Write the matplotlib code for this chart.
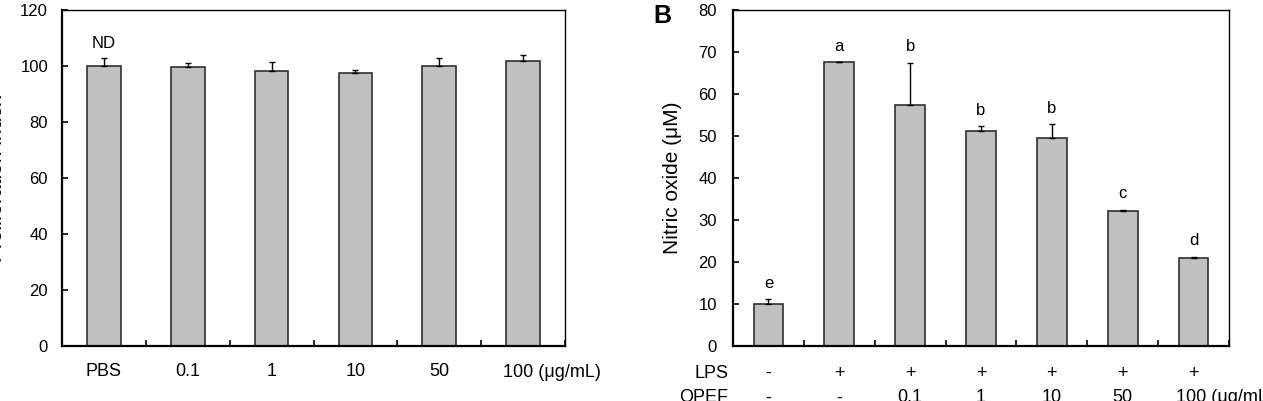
import matplotlib
matplotlib.use("Agg")
import matplotlib.pyplot as plt
import numpy as np

plt.rcParams["font.family"] = ["Liberation Sans", "DejaVu Sans"]

# panel A: proliferation
dose_labels = ["PBS", "0.1", "1", "10", "50", "100"]
prolif = [100.0, 99.6, 98.1, 97.6, 100.0, 101.8]
prolif_err = [2.8, 1.6, 3.2, 1.1, 2.8, 2.0]

# panel B: nitric oxide
lps_row = ["-", "+", "+", "+", "+", "+", "+"]
opef_row = ["-", "-", "0.1", "1", "10", "50", "100"]
nitric = [10.1, 67.6, 57.5, 51.2, 49.5, 32.1, 20.9]
nitric_err = [1.0, 0.0, 10.0, 1.2, 3.4, 0.4, 0.4]
sig_letters = ["e", "a", "b", "b", "b", "c", "d"]

W, H = 1263, 401
BAR = "#c0c0c0"
EDGE = "#303030"


def style_axes(axis, n):
    for side in ["left", "bottom"]:
        axis.spines[side].set_linewidth(1.6)
    for side in ["top", "right"]:
        axis.spines[side].set_linewidth(1.0)
    axis.set_xlim(-0.5, n - 0.5)
    axis.set_xticks(np.arange(n))
    axis.set_xticks(np.arange(n + 1) - 0.5, minor=True)
    axis.tick_params(axis="x", which="major", length=0, labelsize=13, pad=12)
    axis.tick_params(axis="x", which="minor", direction="in", length=4, width=1.2)
    axis.tick_params(axis="y", direction="in", length=4, width=1.2, labelsize=12)


def draw_bars(axis, values, errs, width):
    x = np.arange(len(values))
    axis.bar(x, values, width=width, color=BAR, edgecolor=EDGE, linewidth=1.2, zorder=2)
    axis.errorbar(x, values, yerr=[np.zeros(len(errs)), errs], fmt="none",
                  ecolor="black", elinewidth=1.0, capsize=2.5, capthick=1.0, zorder=3)


fig = plt.figure(figsize=(W / 100, H / 100), dpi=100)

# ---- panel A
ax1 = fig.add_axes([62 / W, 55 / H, (565 - 62) / W, 336 / H])
draw_bars(ax1, prolif, prolif_err, 0.4)
style_axes(ax1, len(dose_labels))
ax1.set_ylim(0, 120)
ax1.set_yticks(range(0, 121, 20))
ax1.tick_params(axis="y", pad=10)
ax1.set_xticklabels(dose_labels[:-1] + [""])
ax1.text(len(dose_labels) - 1 - 0.24, -0.078, "100 (\u03bcg/mL)", transform=ax1.get_xaxis_transform(),
         ha="left", va="center", fontsize=13)
ax1.annotate("ND", (0, prolif[0] + prolif_err[0]), xytext=(0, 7.5), textcoords="offset points",
             ha="center", va="baseline", fontsize=12)
fig.text(-3 / W, (1 - (10 + 346) / 2 / H), "Proliferation index", rotation=90,
         ha="center", va="center", fontsize=15)

# ---- panel B
ax2 = fig.add_axes([733 / W, 55 / H, (1229 - 733) / W, 336 / H])
draw_bars(ax2, nitric, nitric_err, 0.42)
style_axes(ax2, len(lps_row))
ax2.set_ylim(0, 80)
ax2.set_yticks(range(0, 81, 10))
ax2.tick_params(axis="y", pad=11.5)
ax2.set_xticklabels([])
ax2.set_ylabel("Nitric oxide (\u03bcM)", fontsize=15, labelpad=12)

for i, (v, e, s) in enumerate(zip(nitric, nitric_err, sig_letters)):
    ax2.annotate(s, (i, v + e), xytext=(0, 8), textcoords="offset points",
                 ha="center", va="baseline", fontsize=12)

row1_y = -(373 - 346) / 336
row2_y = -(398 - 346) / 336
trans = ax2.get_xaxis_transform()
ax2.text(-0.5 - 0.07, row1_y, "LPS", transform=trans, ha="right", va="center", fontsize=13)
ax2.text(-0.5 - 0.07, row2_y, "OPEF", transform=trans, ha="right", va="center", fontsize=13)
for i, (a, b) in enumerate(zip(lps_row, opef_row)):
    ax2.text(i, row1_y, a, transform=trans, ha="center", va="center", fontsize=13)
    if i == len(opef_row) - 1:
        ax2.text(i - 0.25, row2_y, b + " (\u03bcg/mL)", transform=trans, ha="left", va="center", fontsize=13)
    else:
        ax2.text(i, row2_y, b, transform=trans, ha="center", va="center", fontsize=13)

fig.text(662 / W, 1 - 16 / H, "B", fontsize=18, fontweight="bold", ha="center", va="center")

fig.savefig("out.png", dpi=100)
